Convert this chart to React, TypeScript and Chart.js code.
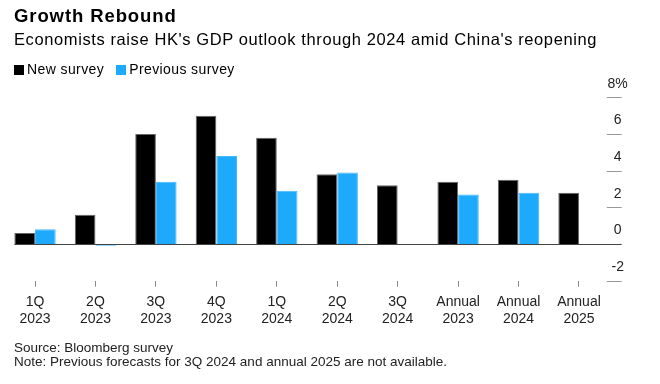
import React, { useEffect, useRef } from "react";
import { Chart, registerables } from "chart.js";

Chart.register(...registerables);

const categories: string[][] = [
  ["1Q", "2023"], ["2Q", "2023"], ["3Q", "2023"], ["4Q", "2023"],
  ["1Q", "2024"], ["2Q", "2024"], ["3Q", "2024"],
  ["Annual", "2023"], ["Annual", "2024"], ["Annual", "2025"],
];
const newSurvey: (number | null)[] = [0.6, 1.6, 6.0, 7.0, 5.8, 3.8, 3.2, 3.4, 3.5, 2.8];
const previousSurvey: (number | null)[] = [0.8, -0.1, 3.4, 4.8, 2.9, 3.9, null, 2.7, 2.8, null];
const yTicks: number[] = [-2, 0, 2, 4, 6, 8];

const FONT = "'Liberation Sans', Arial, sans-serif";
const BLUE = "#1DAAFC";

const customAxis = {
  id: "customAxis",
  beforeDatasetsDraw(chart: any) {
    const { ctx, chartArea, scales } = chart;
    const y = scales.y;
    ctx.save();
    ctx.strokeStyle = "#999";
    ctx.lineWidth = 1;
    for (const v of yTicks) {
      if (v === 0) continue;
      const py = Math.round(y.getPixelForValue(v)) + 0.5;
      ctx.beginPath();
      ctx.moveTo(chartArea.right - 2.5, py);
      ctx.lineTo(chartArea.right + 12.5, py);
      ctx.stroke();
    }
    ctx.restore();
  },
  afterDatasetsDraw(chart: any) {
    const { ctx, chartArea, scales } = chart;
    const y = scales.y;
    const meta = chart.getDatasetMeta(0);
    const first = meta.data[0];
    const startX = first.x - first.width / 2;
    ctx.save();
    const py0 = Math.round(y.getPixelForValue(0)) + 0.5;
    ctx.strokeStyle = "#444";
    ctx.lineWidth = 1;
    ctx.beginPath();
    ctx.moveTo(startX, py0);
    ctx.lineTo(chartArea.right + 12.5, py0);
    ctx.stroke();
    ctx.fillStyle = "#222";
    ctx.font = `14px ${FONT}`;
    ctx.textAlign = "center";
    ctx.textBaseline = "middle";
    for (const v of yTicks) {
      const py = y.getPixelForValue(v);
      const label = v === 8 ? "8%" : String(v);
      ctx.fillText(label, chartArea.right + 8.5, py - 13.5);
    }
    ctx.restore();
  },
};

export default function App() {
  const ref = useRef<HTMLCanvasElement | null>(null);
  useEffect(() => {
    if (!ref.current) return;
    const chart = new Chart(ref.current, {
      type: "bar",
      data: {
        labels: categories,
        datasets: [
          {
            label: "New survey",
            data: newSurvey,
            backgroundColor: "#000",
            borderColor: "#666",
            borderWidth: 1,
            categoryPercentage: 0.684,
            barPercentage: 1.0,
          },
          {
            label: "Previous survey",
            data: previousSurvey,
            backgroundColor: BLUE,
            borderColor: "#45b8fc",
            borderWidth: 1,
            categoryPercentage: 0.684,
            barPercentage: 1.0,
          },
        ],
      },
      options: {
        responsive: false,
        animation: false,
        layout: { padding: { left: 4.8, right: 50.8, top: 97.3, bottom: 0 } },
        plugins: { legend: { display: false }, tooltip: { enabled: false } },
        scales: {
          y: { display: false, min: -2, max: 8 },
          x: {
            offset: true,
            grid: {
              offset: false,
              drawOnChartArea: false,
              drawTicks: true,
              tickLength: 6,
              color: "#888",
            },
            border: { display: false },
            ticks: {
              color: "#222",
              font: { family: FONT, size: 14, lineHeight: 17 / 14 },
              padding: 6.5,
              maxRotation: 0,
              autoSkip: false,
            },
            afterFit(scale: any) {
              scale.height = 103.3;
            },
          },
        },
      },
      plugins: [customAxis],
    });
    return () => chart.destroy();
  }, []);

  const sq = (c: string): React.CSSProperties => ({
    display: "inline-block",
    width: 10,
    height: 10,
    background: c,
    marginRight: 3,
    verticalAlign: "-1px",
  });

  return (
    <div style={{ position: "absolute", left: 0, top: 0, width: 660, height: 384, fontFamily: FONT, color: "#000", background: "#fff" }}>
      <canvas ref={ref} width={660} height={384} style={{ position: "absolute", left: 0, top: 0, width: 660, height: 384 }} />
      <div style={{ position: "absolute", left: 14, top: 5, fontSize: 18.5, fontWeight: 700, letterSpacing: 0.9, whiteSpace: "nowrap", lineHeight: "22px" }}>
        Growth Rebound
      </div>
      <div style={{ position: "absolute", left: 14, top: 29, fontSize: 16.5, letterSpacing: 0.6, whiteSpace: "nowrap", lineHeight: "20px" }}>
        Economists raise HK's GDP outlook through 2024 amid China's reopening
      </div>
      <div style={{ position: "absolute", left: 14, top: 61, fontSize: 14, letterSpacing: 0.4, whiteSpace: "nowrap", lineHeight: "17px" }}>
        <span style={sq("#000")} />New survey
        <span style={{ display: "inline-block", width: 12 }} />
        <span style={sq(BLUE)} />Previous survey
      </div>
      <div style={{ position: "absolute", left: 14, top: 341, fontSize: 13.5, whiteSpace: "nowrap", lineHeight: "13.5px", color: "#222" }}>
        <div>Source: Bloomberg survey</div>
        <div>Note: Previous forecasts for 3Q 2024 and annual 2025 are not available.</div>
      </div>
    </div>
  );
}
